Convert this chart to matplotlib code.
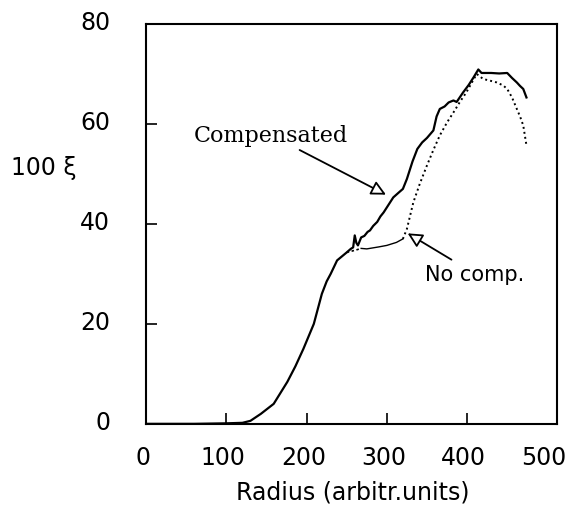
import matplotlib.pyplot as plt

# compensated profile (solid)
comp_x = [0, 60, 100, 120, 130, 143, 159, 176, 186, 196, 209, 214, 219, 225, 230,
          238, 244, 250, 255, 258, 260, 262, 264, 268, 272, 276, 279, 283, 288,
          292, 296, 302, 308, 315, 320, 325, 332, 338, 344, 350, 358, 362, 366,
          372, 377, 383, 387, 395, 402, 408, 414, 418, 430, 440, 450, 456, 462,
          466, 470, 474]
comp_y = [0, 0, 0.1, 0.2, 0.6, 2, 4, 8.4, 11.5, 15, 20, 23, 26, 28.5, 30,
          32.7, 33.5, 34.3, 35, 35.3, 37.7, 36.2, 35.7, 37.3, 37.6, 38.4, 38.7, 39.6, 40.4,
          41.5, 42.3, 43.8, 45.3, 46.3, 47, 49, 52.5, 55, 56.3, 57.2, 58.7, 61.5, 63,
          63.5, 64.3, 64.7, 64.4, 66.3, 67.8, 69.3, 70.9, 70.2, 70.2, 70.1, 70.2, 69.2, 68.3,
          67.6, 67, 65.3]

# uncompensated branch (splits from the compensated curve near 250)
nocomp_x = [250, 255, 262, 268, 275, 290, 300, 312, 320, 325, 333, 341, 350, 358,
            366, 375, 383, 391, 399, 406, 412, 420, 430, 437, 445, 450, 456, 462,
            466, 470, 474]
nocomp_y = [34.3, 34.5, 34.8, 35.1, 35.0, 35.4, 35.7, 36.3, 37.0, 39.0, 44.3, 48.0, 51.7, 54.8,
            57.7, 60.3, 62.3, 64.4, 66.3, 68.3, 70.0, 69.0, 68.6, 68.3, 67.7, 67.0, 65.3, 63.0,
            61.5, 59.7, 55.7]

xticks = [100, 200, 300, 400]
yticks = [20, 40, 60]
xlabels = ["0", "100", "200", "300", "400", "500"]
ylabels = ["0", "20", "40", "60", "80"]

fig = plt.figure(figsize=(5.73, 5.10), dpi=100)
ax = fig.add_axes([0.255, 0.167, 0.717, 0.784])

ax.plot(comp_x, comp_y, color="black", lw=1.6)
ax.plot(nocomp_x[:4], nocomp_y[:4], color="black", lw=1.2, ls=(0, (1.5, 1.5)))
ax.plot(nocomp_x[3:9], nocomp_y[3:9], color="black", lw=1.0)
ax.plot(nocomp_x[8:], nocomp_y[8:], color="black", lw=1.4, ls=(0, (1, 1.6)))

ax.set_xlim(0, 512)
ax.set_ylim(0, 80)
ax.set_xticks(xticks)
ax.set_yticks(yticks)
ax.set_xticklabels([])
ax.set_yticklabels([])
ax.tick_params(direction="in", length=8, width=1.2)
for s in ax.spines.values():
    s.set_linewidth(1.5)

# tick labels sit well away from the frame
for v, t in zip(range(0, 501, 100), xlabels):
    ax.text(v - 4, -6.6, t, ha="center", va="center", fontsize=17, clip_on=False)
for v, t in zip(range(0, 81, 20), ylabels):
    ax.text(-45, v + 0.3, t, ha="right", va="center", fontsize=17, clip_on=False)

fig.text(0.616, 0.035, "Radius (arbitr.units)", ha="center", va="center", fontsize=17)
fig.text(0.02, 0.67, "100 ξ", ha="left", va="center", fontsize=17)

arrow = dict(arrowstyle="-|>", fc="white", ec="black", lw=1.3, mutation_scale=22)
ax.annotate("Compensated", xy=(302, 45.6), xytext=(155, 57.8), ha="center", va="center",
            fontsize=16, family="DejaVu Serif", arrowprops=arrow)
ax.annotate("No comp.", xy=(323, 38.4), xytext=(410, 30), ha="center", va="center",
            fontsize=15, arrowprops=arrow)

fig.savefig("out.png", dpi=100)
